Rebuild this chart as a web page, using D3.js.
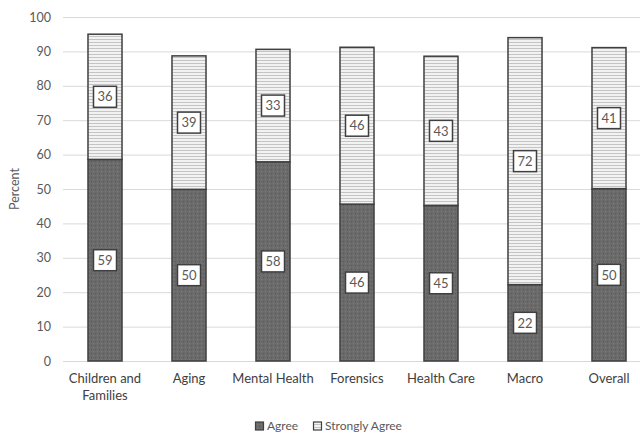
<!DOCTYPE html>
<html>
<head>
<meta charset="utf-8">
<script src="https://cdn.jsdelivr.net/npm/d3@7"></script>
<style>
  body { margin: 0; background: #fff; }
  svg { display: block; font-family: "Lato", "Open Sans", sans-serif; }
</style>
</head>
<body>
<svg id="chart" width="640" height="435"></svg>
<script>
var categories = ["Children and Families", "Aging", "Mental Health", "Forensics", "Health Care", "Macro", "Overall"];
var agree = [58.6, 49.9, 57.9, 45.6, 45.2, 22.2, 50.1];
var stronglyAgree = [36.4, 38.8, 32.7, 45.6, 43.4, 71.8, 41.0];
var yTicks = [0, 10, 20, 30, 40, 50, 60, 70, 80, 90, 100];
var seriesNames = ["Agree", "Strongly Agree"];

var svg = d3.select("#chart"),
    margin = {top: 17, right: -11, bottom: 74, left: 63},
    width = +svg.attr("width") - margin.left - margin.right,
    height = +svg.attr("height") - margin.top - margin.bottom;

// patterns
var defs = svg.append("defs");
var pa = defs.append("pattern").attr("id", "patAgree")
    .attr("patternUnits", "userSpaceOnUse").attr("width", 4).attr("height", 4);
pa.append("rect").attr("width", 4).attr("height", 4).attr("fill", "#6b6b6b");
pa.append("rect").attr("x", 0).attr("y", 0).attr("width", 1).attr("height", 1).attr("fill", "#565656");
pa.append("rect").attr("x", 2).attr("y", 2).attr("width", 1).attr("height", 1).attr("fill", "#7a7a7a");

var ps = defs.append("pattern").attr("id", "patStrong")
    .attr("patternUnits", "userSpaceOnUse").attr("width", 4).attr("height", 3);
ps.append("rect").attr("width", 4).attr("height", 3).attr("fill", "#f2f2f2");
ps.append("rect").attr("y", 1).attr("width", 4).attr("height", 1).attr("fill", "#c4c4c4");

var g = svg.append("g").attr("transform", "translate(" + margin.left + "," + margin.top + ")");

var x = d3.scaleBand().domain(categories).range([0, width]).paddingInner(0.595).paddingOuter(0.2975);
var y = d3.scaleLinear().domain([0, 100]).range([height, 0]);

// gridlines
g.append("g").selectAll("line").data(yTicks).enter().append("line")
    .attr("x1", 0).attr("x2", width)
    .attr("y1", function(d) { return y(d) + 0.5; })
    .attr("y2", function(d) { return y(d) + 0.5; })
    .attr("stroke", "#d9d9d9").attr("stroke-width", 1);

var yAxis = g.append("g")
    .call(d3.axisLeft(y).tickValues(yTicks).tickSize(0).tickPadding(12));
yAxis.select(".domain").remove();
yAxis.selectAll("text").attr("fill", "#595959").style("font-size", "12.5px").style("font-family", "Lato, sans-serif");

svg.append("text")
    .attr("transform", "translate(19," + (margin.top + height / 2) + ") rotate(-90)")
    .attr("text-anchor", "middle")
    .attr("fill", "#595959").style("font-size", "12.5px")
    .text("Percent");

var data = categories.map(function(c, i) { return {cat: c, a: agree[i], s: stronglyAgree[i]}; });

var bars = g.append("g").selectAll("g").data(data).enter().append("g");
bars.append("rect")
    .attr("x", function(d) { return x(d.cat); })
    .attr("width", x.bandwidth())
    .attr("y", function(d) { return y(d.a); })
    .attr("height", function(d) { return y(0) - y(d.a); })
    .attr("fill", "url(#patAgree)").attr("stroke", "#3f3f3f").attr("stroke-width", 1.5);
bars.append("rect")
    .attr("x", function(d) { return x(d.cat); })
    .attr("width", x.bandwidth())
    .attr("y", function(d) { return y(d.a + d.s); })
    .attr("height", function(d) { return y(d.a) - y(d.a + d.s); })
    .attr("fill", "url(#patStrong)").attr("stroke", "#3f3f3f").attr("stroke-width", 1.5);

function label(sel, val, mid) {
  var lg = sel.append("g").attr("transform", function(d) {
    return "translate(" + (x(d.cat) + x.bandwidth() / 2) + "," + y(mid(d)) + ")";
  });
  lg.append("rect").attr("x", -11.5).attr("y", -10.5).attr("width", 23).attr("height", 21)
    .attr("fill", "#fff").attr("stroke", "#3f3f3f").attr("stroke-width", 1.5);
  lg.append("text").attr("text-anchor", "middle").attr("dy", "0.36em")
    .attr("fill", "#595959").style("font-size", "13px")
    .text(function(d) { return Math.round(val(d)); });
}
label(bars, function(d) { return d.a; }, function(d) { return d.a / 2; });
label(bars, function(d) { return d.s; }, function(d) { return d.a + d.s / 2; });

// x labels
var xl = g.append("g").attr("transform", "translate(0," + height + ")");
xl.selectAll("text").data(categories).enter().append("text")
    .attr("x", function(d) { return x(d) + x.bandwidth() / 2; })
    .attr("y", 22)
    .attr("text-anchor", "middle")
    .attr("fill", "#404040").style("font-size", "13px")
    .each(function(d) {
      var t = d3.select(this);
      var parts = d === "Children and Families" ? ["Children and", "Families"] : [d];
      parts.forEach(function(p, i) {
        t.append("tspan").attr("x", x(d) + x.bandwidth() / 2).attr("dy", i ? 17 : 0).text(p);
      });
    });

// legend
var legend = svg.append("g").attr("transform", "translate(255,426)");
var lx = [0, 58];
seriesNames.forEach(function(n, i) {
  var lgi = legend.append("g").attr("transform", "translate(" + lx[i] + ",0)");
  lgi.append("rect").attr("x", 0.5).attr("y", -4).attr("width", 8).attr("height", 8)
    .attr("fill", i ? "url(#patStrong)" : "url(#patAgree)")
    .attr("stroke", "#3f3f3f").attr("stroke-width", 1.2);
  lgi.append("text").attr("x", 12).attr("dy", "0.36em")
    .attr("fill", "#595959").style("font-size", "12px").text(n);
});
</script>
</body>
</html>
